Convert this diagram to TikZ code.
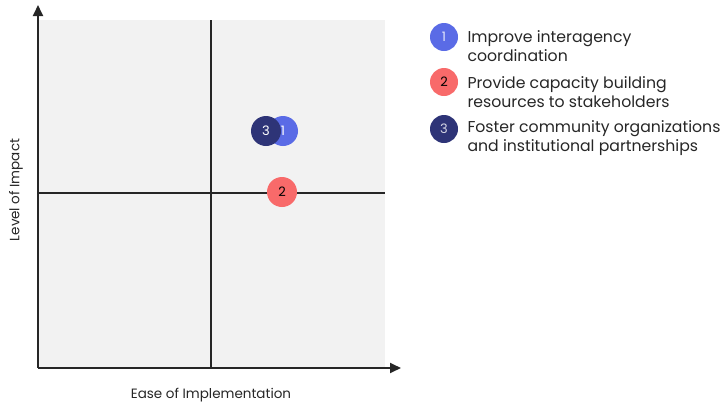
\documentclass[tikz,border=0pt]{standalone}
\usepackage{fontspec}
\setmainfont{Poppins}
\usetikzlibrary{arrows.meta}
\definecolor{cblue}{HTML}{5A6BE6}
\definecolor{cred}{HTML}{F86A6A}
\definecolor{cnavy}{HTML}{2E3477}
\definecolor{bggray}{HTML}{F2F2F2}
\tikzset{
  dot/.style={circle, minimum size=30pt, inner sep=0pt, font=\fontsize{13}{13}\selectfont},
  legtext/.style={anchor=west, align=left, font=\fontsize{15.7}{19}\selectfont, text=black!85},
  axline/.style={line width=1.8pt, black!85, -{Triangle[length=11pt,width=10pt]}},
  divline/.style={line width=1.1pt, black!85},
  axlabel/.style={font=\fontsize{13.5}{15}\selectfont, text=black!85}
}
\begin{document}
\begin{tikzpicture}[x=1pt,y=-1pt]
\useasboundingbox (0,0) rectangle (724,408);
\fill[bggray] (38,20) rectangle (385,368);
\coordinate (o) at (38,368);
\coordinate (ytip) at (38,5);
\coordinate (xtip) at (401,368);
\coordinate (vt) at (211,20);
\coordinate (vb) at (211,368);
\coordinate (hl) at (38,193);
\coordinate (hr) at (385,193);
\draw[divline] (vt) -- (vb);
\draw[divline] (hl) -- (hr);
\draw[axline] (o) -- (ytip);
\draw[axline] (o) -- (xtip);
\node[axlabel, rotate=90] (ylab) at (16,190) {Level of Impact};
\node[axlabel] (xlab) at (211,395) {Ease of Implementation};
% plotted points
\node[dot, fill=cblue, text=white] (p1) at (283,131) {1};
\node[dot, fill=cnavy, text=white] (p3) at (266,131) {3};
\node[dot, fill=cred, text=black] (p2) at (282,192) {2};
% legend
\node[dot, minimum size=28pt, fill=cblue, text=white!85!cblue] (l1) at (444,37) {1};
\node[dot, minimum size=28pt, fill=cred, text=black] (l2) at (444,82) {2};
\node[dot, minimum size=28pt, fill=cnavy, text=white!80!cnavy] (l3) at (444,129) {3};
\node[legtext] (t1) at (464,46) {Improve interagency\\coordination};
\node[legtext] (t2) at (464,92) {Provide capacity building\\resources to stakeholders};
\node[legtext] (t3) at (464,138) {Foster community organizations\\and institutional partnerships};
\end{tikzpicture}
\end{document}
